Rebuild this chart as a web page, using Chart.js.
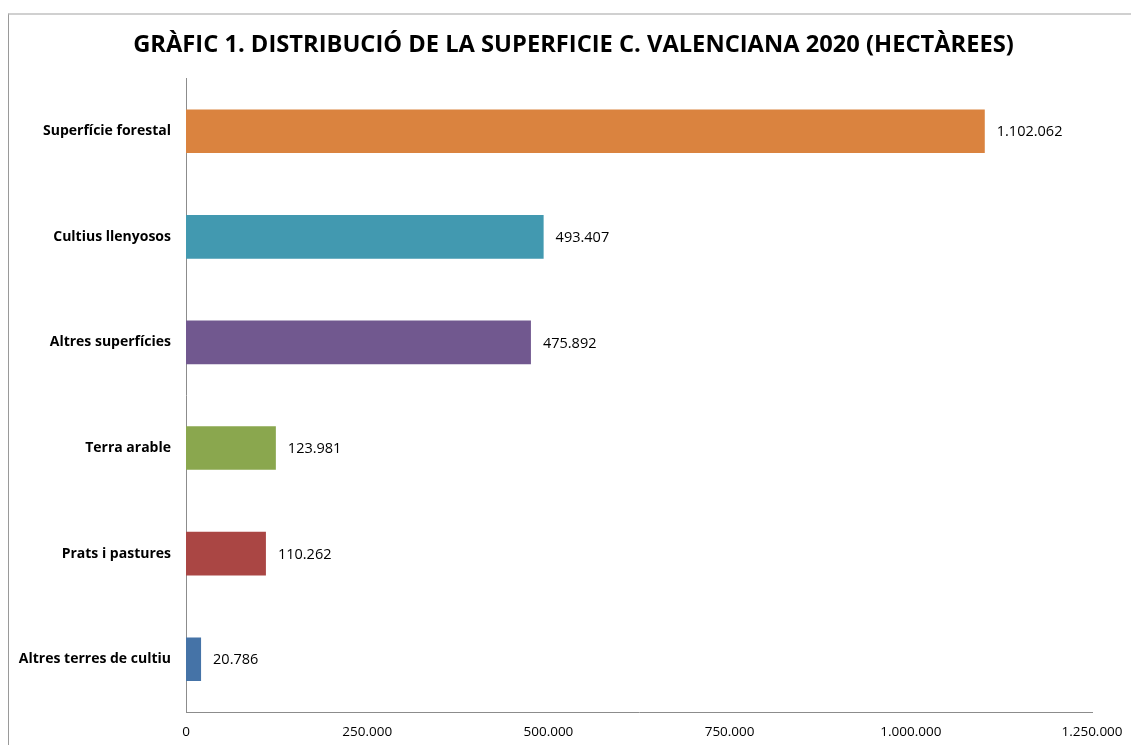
<!DOCTYPE html>
<html>
<head>
<meta charset="utf-8">
<script src="https://cdn.jsdelivr.net/npm/chart.js@4"></script>
<style>
  html, body { margin: 0; padding: 0; background: #fff; }
  #wrap { position: relative; width: 1131px; height: 745px; overflow: hidden; }
  #frame { position: absolute; left: 8px; top: 13px; width: 1200px; height: 800px;
           border-top: 2px solid #d0d0d0; border-left: 1px solid #9a9a9a; box-sizing: border-box; }
  canvas { position: absolute; left: 0; top: 0; }
</style>
</head>
<body>
<div id="wrap">
  <div id="frame"></div>
  <canvas id="c" width="1131" height="745"></canvas>
</div>
<script>
const categories = ["Superfície forestal", "Cultius llenyosos", "Altres superfícies", "Terra arable", "Prats i pastures", "Altres terres de cultiu"];
const values = [1102062, 493407, 475892, 123981, 110262, 20786];
const barColors = ["#DA833F", "#4299B0", "#71588F", "#8AA74E", "#AA4644", "#4573A7"];
const xTicks = [0, 250000, 500000, 750000, 1000000, 1250000];
const titleText = "GRÀFIC 1. DISTRIBUCIÓ DE LA SUPERFICIE C. VALENCIANA 2020 (HECTÀREES)";

const FONT = "'Open Sans', 'Liberation Sans', sans-serif";
function fmt(n) { return String(n).replace(/\B(?=(\d{3})+(?!\d))/g, "."); }

const valueLabels = {
  id: "valueLabels",
  afterLayout(chart) {
    const t = chart.titleBlock;
    if (t) { t.left = 54; t.right = 1093; }
  },
  afterDatasetsDraw(chart) {
    const ctx = chart.ctx;
    const meta = chart.getDatasetMeta(0);
    ctx.save();
    ctx.font = "14.5px " + FONT;
    ctx.fillStyle = "#000";
    ctx.textAlign = "left";
    ctx.textBaseline = "middle";
    meta.data.forEach((bar, i) => {
      ctx.fillText(fmt(values[i]), bar.x + 12, bar.y + 1);
    });
    ctx.restore();
  }
};

new Chart(document.getElementById("c"), {
  type: "bar",
  data: {
    labels: categories,
    datasets: [{
      data: values,
      backgroundColor: barColors,
      borderWidth: 0,
      barPercentage: 0.413,
      categoryPercentage: 1.0
    }]
  },
  options: {
    indexAxis: "y",
    responsive: false,
    animation: false,
    layout: { padding: { left: 10, right: 39, top: 0, bottom: 0 } },
    plugins: {
      legend: { display: false },
      tooltip: { enabled: false },
      title: {
        display: true,
        text: titleText,
        color: "#000",
        font: { family: FONT, size: 23.7, weight: "bold" },
        padding: { top: 31, bottom: 19 }
      }
    },
    scales: {
      x: {
        min: 0,
        max: 1250000,
        afterBuildTicks(scale) { scale.ticks = xTicks.map(v => ({ value: v })); },
        grid: { display: false, drawTicks: false },
        border: { display: true, color: "#8c8c8c", width: 1 },
        ticks: {
          color: "#000",
          font: { family: FONT, size: 13.5 },
          padding: 12,
          maxRotation: 0,
          callback: (v) => fmt(v)
        },
        afterFit(scale) { scale.height = 33; scale.paddingLeft = 0; scale.paddingRight = 0; }
      },
      y: {
        grid: { display: false, drawTicks: false },
        border: { display: true, color: "#8c8c8c", width: 1 },
        ticks: {
          color: "#000",
          font: { family: FONT, size: 14, weight: "bold" },
          padding: 15
        },
        afterFit(scale) { scale.width = 176; }
      }
    }
  },
  plugins: [valueLabels]
});
</script>
</body>
</html>
